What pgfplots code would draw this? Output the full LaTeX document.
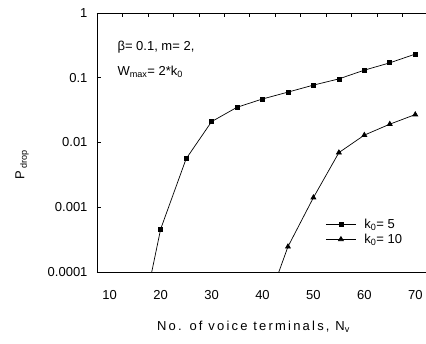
\documentclass[border=0pt]{standalone}
\usepackage{pgfplots}
\pgfplotsset{compat=1.18}
\usepackage{fontspec}
\setmainfont{Liberation Sans}
\begin{document}
\begin{tikzpicture}
\useasboundingbox (-97pt,-72pt) rectangle (329pt,272pt);
\begin{axis}[
  at={(0,0)}, anchor=south west,
  scale only axis, width=331pt, height=259pt,
  ymode=log, xmin=7.5, xmax=72.5, ymin=1e-4, ymax=1,
  axis x line=box, axis y line=left, axis line style={-, line width=0.8pt},
  tick align=inside, major tick length=4pt,
  xtick={12.5,17.5,...,67.5}, xticklabels={},
  extra x ticks={10,20,30,40,50,60,70},
  extra x tick labels={10,20,30,40,50,60,70},
  extra x tick style={major tick length=0pt},
  xtick pos=right, xticklabel pos=left,
  ytick={1e-4,1e-3,1e-2,1e-1,1},
  yticklabels={0.0001,0.001,0.01,0.1,1},
  ytick pos=left, yminorticks=false,
  tick style={black, line width=0.6pt},
  ticklabel style={font=\fontsize{13}{15}\selectfont},
  xticklabel style={yshift=-15pt},
  yticklabel style={xshift=-6pt},
  xlabel={\addfontfeature{LetterSpace=17}No. of voice terminals, N\textsubscript{v}},
  ylabel={P\textsubscript{ drop}},
  every axis x label/.style={at={(rel axis cs:0.5,0)}, yshift=-55pt, xshift=-9pt, anchor=center, font=\fontsize{13}{15}\selectfont},
  every axis y label/.style={at={(rel axis cs:0,0.413)}, xshift=-75pt, rotate=90, anchor=center, font=\fontsize{13}{15}\selectfont},
  legend style={at={(rel axis cs:0.69,0.155)}, anchor=west, draw=none, fill=none,
    font=\fontsize{13}{15}\selectfont, row sep=4pt, inner sep=0pt,
    nodes={inner sep=0pt},
    /tikz/every odd column/.append style={column sep=8pt}},
  legend cell align=left,
  legend image code/.code={\draw[#1, mark repeat=2, mark phase=2] plot coordinates {(0pt,0pt) (15pt,0pt) (30pt,0pt)};},
  clip=true,
]
\addplot[black, line width=0.7pt, mark=square*, mark size=2pt] coordinates {
(15,5.9e-6) (20,4.6e-4) (25,5.6e-3) (30,0.021) (35,0.035) (40,0.047) (45,0.060)
(50,0.077) (55,0.096) (60,0.131) (65,0.170) (70,0.232)};
\addlegendentry{k\textsubscript{0}= 5}
\addplot[black, line width=0.7pt, mark=triangle*, mark size=2.8pt] coordinates {
(40,2.0e-5) (45,2.46e-4) (50,1.41e-3) (55,6.98e-3) (60,0.0130) (65,0.0192) (70,0.027)};
\addlegendentry{k\textsubscript{0}= 10}
\end{axis}
\node[anchor=west, font=\fontsize{13}{15}\selectfont] at (17pt,225pt) {β= 0.1, m= 2,};
\node[anchor=west, font=\fontsize{13}{15}\selectfont] at (17pt,200pt) {W\textsubscript{max}= 2*k\textsubscript{0}};
\end{tikzpicture}
\end{document}
